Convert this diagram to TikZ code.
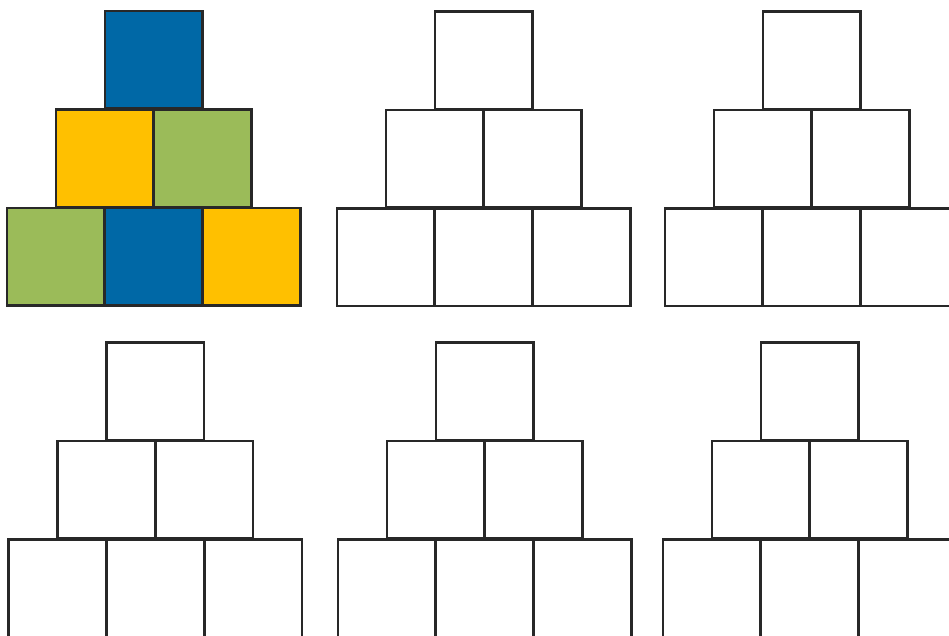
\documentclass[tikz,border=0pt]{standalone}
\definecolor{cblue}{RGB}{0,104,166}
\definecolor{cyellow}{RGB}{255,192,0}
\definecolor{cgreen}{RGB}{155,187,89}
\definecolor{cline}{RGB}{40,40,40}
\tikzset{
  sq/.style={draw=cline, line width=2.4pt, rectangle, minimum width=97.5pt, minimum height=97.5pt,
    inner sep=0pt, outer sep=0pt, anchor=north west}
}
% #1 name, #2 x of top square, #3 y of top, #4-#9 fills
\newcommand{\pyramidrow}[9]{%
  \node[sq, fill=#4] (#1t)  at (#2,#3) {};
  \node[sq, fill=#5] (#1ml) at (#2-49,#3+98.5) {};
  \node[sq, fill=#6] (#1mr) at (#2+49,#3+98.5) {};
  \node[sq, fill=#7] (#1bl) at (#2-98,#3+197) {};
  \node[sq, fill=#8] (#1bc) at (#2,#3+197) {};
  \node[sq, fill=#9] (#1br) at (#2+98,#3+197) {};
}
\begin{document}
\begin{tikzpicture}[x=1pt,y=-1pt]
\useasboundingbox (0,0) rectangle (949,635);
\fill[white] (0,0) rectangle (949,635);
\clip (0,0) rectangle (949,635);
\pyramidrow{a}{105}{11}{cblue}{cyellow}{cgreen}{cgreen}{cblue}{cyellow}
\pyramidrow{b}{435}{11.5}{white}{white}{white}{white}{white}{white}
\pyramidrow{c}{763}{11.5}{white}{white}{white}{white}{white}{white}
\pyramidrow{d}{106.5}{342.5}{white}{white}{white}{white}{white}{white}
\pyramidrow{e}{436}{342.5}{white}{white}{white}{white}{white}{white}
\pyramidrow{f}{761}{342.5}{white}{white}{white}{white}{white}{white}
\end{tikzpicture}
\end{document}
